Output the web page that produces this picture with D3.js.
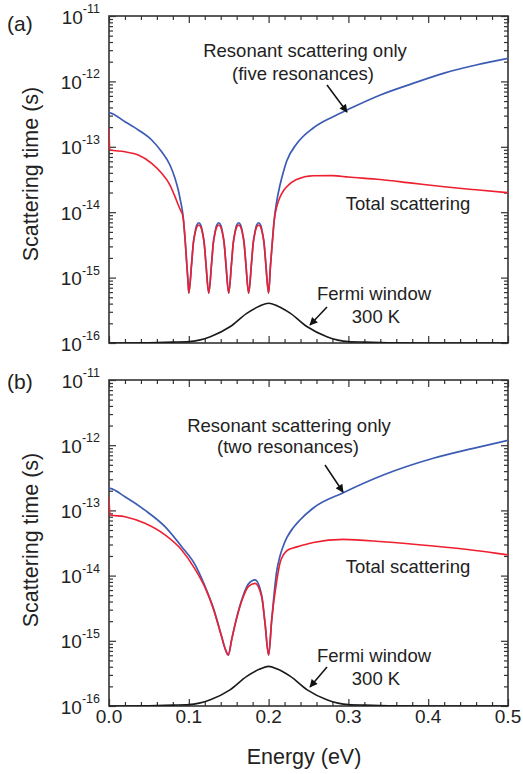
<!DOCTYPE html>
<html>
<head>
<meta charset="utf-8">
<script src="https://cdn.jsdelivr.net/npm/d3@7"></script>
<style>
  body { margin: 0; background: #fff; }
  svg { display: block; }
  text { font-family: "Liberation Sans", Arial, Helvetica, sans-serif; fill: #222; }
</style>
</head>
<body>
<svg id="chart" width="523" height="774"></svg>
<script>
// ---- Panel (a): five resonances ----
const aEnergy = [0, 0.001, 0.02, 0.0367, 0.0535, 0.066, 0.0764, 0.0827, 0.0868, 0.0902, 0.0918, 0.0931, 0.0943, 0.0955, 0.0966, 0.0977, 0.0989, 0.1,
  0.1036, 0.1057, 0.1078, 0.1099, 0.1125, 0.1151, 0.1172, 0.1193, 0.1214, 0.125,
  0.1286, 0.1307, 0.1328, 0.1349, 0.1375, 0.1401, 0.1422, 0.1443, 0.1464, 0.15,
  0.1536, 0.1557, 0.1578, 0.1599, 0.1625, 0.1651, 0.1672, 0.1693, 0.1714, 0.175,
  0.1786, 0.1807, 0.1828, 0.1849, 0.1875, 0.1901, 0.1922, 0.1943, 0.1964, 0.2,
  0.2023, 0.2048, 0.207, 0.2105, 0.2143, 0.2185, 0.2227, 0.235, 0.256, 0.28, 0.30, 0.34, 0.38, 0.42, 0.46, 0.50];
const aResonant = [3.32e-13, 3.31e-13, 2.42e-13, 1.81e-13, 1.27e-13, 8.4e-14, 5.27e-14, 3.3e-14, 2.19e-14, 1.37e-14, 1.08e-14, 8.15e-15, 5.53e-15, 3.63e-15, 2.3e-15, 1.45e-15, 9.2e-16, 5.8e-16,
  1.7e-15, 3.4e-15, 4.9e-15, 6.3e-15, 6.9e-15, 6.3e-15, 4.9e-15, 3.4e-15, 1.7e-15, 5.8e-16,
  1.7e-15, 3.4e-15, 4.9e-15, 6.3e-15, 6.9e-15, 6.3e-15, 4.9e-15, 3.4e-15, 1.7e-15, 5.8e-16,
  1.7e-15, 3.4e-15, 4.9e-15, 6.3e-15, 6.9e-15, 6.3e-15, 4.9e-15, 3.4e-15, 1.7e-15, 5.8e-16,
  1.7e-15, 3.4e-15, 4.9e-15, 6.3e-15, 6.9e-15, 6.3e-15, 4.9e-15, 3.4e-15, 1.7e-15, 5.8e-16,
  1.5e-15, 3.63e-15, 7.6e-15, 1.54e-14, 2.6e-14, 4.12e-14, 6.07e-14, 1.1e-13, 1.94e-13, 2.86e-13, 3.74e-13, 6.2e-13, 9.25e-13, 1.34e-12, 1.78e-12, 2.25e-12];
const aTotal = [1.95e-13, 8.93e-14, 8.4e-14, 7.5e-14, 5.6e-14, 3.94e-14, 2.6e-14, 1.73e-14, 1.29e-14, 1.04e-14, 9.5e-15, 7.87e-15, 5.53e-15, 3.63e-15, 2.3e-15, 1.45e-15, 9.2e-16, 5.8e-16,
  1.66e-15, 3.34e-15, 4.75e-15, 5.9e-15, 6.37e-15, 5.9e-15, 4.75e-15, 3.34e-15, 1.66e-15, 5.8e-16,
  1.66e-15, 3.34e-15, 4.75e-15, 5.9e-15, 6.37e-15, 5.9e-15, 4.75e-15, 3.34e-15, 1.66e-15, 5.8e-16,
  1.66e-15, 3.34e-15, 4.75e-15, 5.9e-15, 6.37e-15, 5.9e-15, 4.75e-15, 3.34e-15, 1.66e-15, 5.8e-16,
  1.66e-15, 3.34e-15, 4.75e-15, 5.9e-15, 6.37e-15, 5.9e-15, 4.75e-15, 3.34e-15, 1.66e-15, 5.8e-16,
  1.5e-15, 3.63e-15, 7.4e-15, 1.25e-14, 1.7e-14, 2.11e-14, 2.45e-14, 3.16e-14, 3.6e-14, 3.63e-14, 3.45e-14, 3.16e-14, 2.78e-14, 2.45e-14, 2.2e-14, 1.99e-14];

// ---- Panel (b): two resonances ----
const bEnergy = [0, 0.0013, 0.02, 0.045, 0.0702, 0.0911, 0.1078, 0.12, 0.1307, 0.1412, 0.1454, 0.1496, 0.1537, 0.1595,
  0.1683, 0.1746, 0.183, 0.1913, 0.1955, 0.2, 0.2039, 0.21, 0.2143, 0.2184, 0.2227, 0.2306, 0.2393, 0.256, 0.2936, 0.3437, 0.4064, 0.4565, 0.5];
const bResonant = [2.18e-13, 2.17e-13, 1.62e-13, 1.01e-13, 5.63e-14, 2.77e-14, 1.47e-14, 7.0e-15, 3.2e-15, 1.16e-15, 7.7e-16, 6.05e-16, 1.05e-15, 2.15e-15,
  5.0e-15, 7.4e-15, 8.6e-15, 5.0e-15, 1.9e-15, 6.05e-16, 2.1e-15, 1.13e-14, 2.0e-14, 2.85e-14, 3.78e-14, 5.37e-14, 7.13e-14, 1.09e-13, 1.87e-13, 3.49e-13, 6.3e-13, 8.96e-13, 1.19e-12];
const bTotal = [1.62e-13, 8.5e-14, 8.0e-14, 6.33e-14, 4.2e-14, 2.47e-14, 1.26e-14, 6.7e-15, 3.1e-15, 1.14e-15, 7.6e-16, 6.05e-16, 1.03e-15, 2.09e-15,
  4.74e-15, 6.76e-15, 7.6e-15, 4.74e-15, 1.85e-15, 6.05e-16, 2.08e-15, 8.0e-15, 1.56e-14, 2.07e-14, 2.4e-14, 2.65e-14, 2.84e-14, 3.22e-14, 3.6e-14, 3.31e-14, 2.84e-14, 2.45e-14, 2.08e-14];

// ---- Fermi window at 300 K (same in both panels) ----
const fermiEnergy = [0, 0.05, 0.08, 0.1, 0.127, 0.1516, 0.1726, 0.189, 0.2, 0.211, 0.2274, 0.2484, 0.273, 0.3, 0.32, 0.35, 0.4, 0.5];
const fermiWindow = [1.0e-16, 1.01e-16, 1.03e-16, 1.05e-16, 1.25e-16, 1.77e-16, 2.84e-16, 3.68e-16, 4.05e-16, 3.68e-16, 2.84e-16, 1.77e-16, 1.25e-16, 1.05e-16, 1.03e-16, 1.01e-16, 1.0e-16, 1.0e-16];

// ---- Axis ticks ----
const xTickLabels = ["0.0", "0.1", "0.2", "0.3", "0.4", "0.5"];
const xMajor = [0, 0.1, 0.2, 0.3, 0.4, 0.5];
const yExponents = [-16, -15, -14, -13, -12, -11];

const panels = [
  { tag: "(a)", top: 16, bottom: 343, energy: aEnergy, res: aResonant, tot: aTotal, xLabels: false,
    resText: ["Resonant scattering only", "(five resonances)"], resPos: [305, 57, 303, 80], resArrow: [327, 85, 347, 112],
    totPos: [408, 210], fermiPos: [374, 300, 376, 323], fermiArrow: [327, 307, 310, 325], tagY: 31, titleY: 174 },
  { tag: "(b)", top: 380, bottom: 706, energy: bEnergy, res: bResonant, tot: bTotal, xLabels: true,
    resText: ["Resonant scattering only", "(two resonances)"], resPos: [289, 432, 288, 453], resArrow: [325, 465, 343, 492],
    totPos: [408, 573], fermiPos: [374, 662, 376, 685], fermiArrow: [327, 667, 310, 687], tagY: 389, titleY: 540 }
];

const svg = d3.select("#chart");
const left = 109, right = 508;
const frameColor = "#333";
const x = d3.scaleLinear().domain([0, 0.5]).range([left, right]);

const defs = svg.append("defs");
defs.append("marker")
  .attr("id", "head").attr("viewBox", "0 0 10 10").attr("refX", 9).attr("refY", 5)
  .attr("markerWidth", 9).attr("markerHeight", 8).attr("markerUnits", "userSpaceOnUse")
  .attr("orient", "auto")
  .append("path").attr("d", "M0,0 L10,5 L0,10 z").attr("fill", "#111");

const xMinor = d3.range(0, 0.5001, 0.02).filter(v => Math.abs(v * 10 - Math.round(v * 10)) > 1e-6);
const yMinor = [];
yExponents.slice(0, -1).forEach(e => { for (let k = 2; k <= 9; k++) yMinor.push(k * Math.pow(10, e)); });

panels.forEach(p => {
  const y = d3.scaleLog().domain([1e-16, 1e-11]).range([p.bottom, p.top]);
  const g = svg.append("g");

  const clipId = "clip" + p.top;
  defs.append("clipPath").attr("id", clipId)
    .append("rect").attr("x", left).attr("y", p.top).attr("width", right - left).attr("height", p.bottom - p.top);

  // tick marks pointing inward on all four sides
  const majorY = yExponents.map(e => Math.pow(10, e));
  const tickGroups = [
    [d3.axisBottom(x).tickValues(xMajor).tickSize(-7), 0, p.bottom],
    [d3.axisBottom(x).tickValues(xMinor).tickSize(-4), 0, p.bottom],
    [d3.axisTop(x).tickValues(xMajor).tickSize(-7), 0, p.top],
    [d3.axisTop(x).tickValues(xMinor).tickSize(-4), 0, p.top],
    [d3.axisLeft(y).tickValues(majorY).tickSize(-7), left, 0],
    [d3.axisLeft(y).tickValues(yMinor).tickSize(-4), left, 0],
    [d3.axisRight(y).tickValues(majorY).tickSize(-7), right, 0],
    [d3.axisRight(y).tickValues(yMinor).tickSize(-4), right, 0]
  ];
  tickGroups.forEach(([ax, tx, ty]) => {
    const a = g.append("g").attr("transform", `translate(${tx},${ty})`).call(ax.tickFormat(""));
    a.select(".domain").remove();
    a.selectAll("line").attr("stroke", frameColor).attr("stroke-width", 1.2);
  });

  // frame
  g.append("rect").attr("x", left).attr("y", p.top).attr("width", right - left).attr("height", p.bottom - p.top)
    .attr("fill", "none").attr("stroke", frameColor).attr("stroke-width", 1.6);

  // y tick labels: 10 with superscript exponent
  yExponents.forEach(e => {
    const t = g.append("text").attr("x", 100).attr("y", y(Math.pow(10, e)) + 7.5)
      .attr("text-anchor", "end").attr("font-size", 19).text("10");
    t.append("tspan").attr("font-size", 12.5).attr("dy", -10.5).text(String(e));
  });

  if (p.xLabels) {
    xMajor.forEach((v, i) => {
      g.append("text").attr("x", x(v)).attr("y", p.bottom + 17).attr("text-anchor", "middle")
        .attr("font-size", 19).text(xTickLabels[i]);
    });
    g.append("text").attr("x", 304).attr("y", 764).attr("text-anchor", "middle")
      .attr("font-size", 21.5).text("Energy (eV)");
  }

  // y axis title
  g.append("text").attr("transform", `translate(38,${p.titleY}) rotate(-90)`)
    .attr("text-anchor", "middle").attr("font-size", 21.5).text("Scattering time (s)");

  // panel tag
  g.append("text").attr("x", 7).attr("y", p.tagY).attr("font-size", 21).text(p.tag);

  // curves
  const line = (xs, ys) => d3.line().x((d, i) => x(xs[i])).y(d => y(d)).curve(d3.curveMonotoneX)(ys);
  const plot = g.append("g").attr("clip-path", `url(#${clipId})`);
  plot.append("path").attr("d", line(fermiEnergy, fermiWindow)).attr("fill", "none")
    .attr("stroke", "#1a1a1a").attr("stroke-width", 1.6);
  plot.append("path").attr("d", line(p.energy, p.res)).attr("fill", "none")
    .attr("stroke", "#3c5cb4").attr("stroke-width", 1.7);
  plot.append("path").attr("d", line(p.energy, p.tot)).attr("fill", "none")
    .attr("stroke", "#ee2030").attr("stroke-width", 1.6);

  // annotations
  g.append("text").attr("x", p.resPos[0]).attr("y", p.resPos[1]).attr("text-anchor", "middle")
    .attr("font-size", 18.5).text(p.resText[0]);
  g.append("text").attr("x", p.resPos[2]).attr("y", p.resPos[3]).attr("text-anchor", "middle")
    .attr("font-size", 18.5).text(p.resText[1]);
  g.append("text").attr("x", p.totPos[0]).attr("y", p.totPos[1]).attr("text-anchor", "middle")
    .attr("font-size", 18.5).text("Total scattering");
  g.append("text").attr("x", p.fermiPos[0]).attr("y", p.fermiPos[1]).attr("text-anchor", "middle")
    .attr("font-size", 18.5).text("Fermi window");
  g.append("text").attr("x", p.fermiPos[2]).attr("y", p.fermiPos[3]).attr("text-anchor", "middle")
    .attr("font-size", 18.5).text("300 K");

  [p.resArrow, p.fermiArrow].forEach(a => {
    g.append("line").attr("x1", a[0]).attr("y1", a[1]).attr("x2", a[2]).attr("y2", a[3])
      .attr("stroke", "#111").attr("stroke-width", 1.5).attr("marker-end", "url(#head)");
  });
});
</script>
</body>
</html>
